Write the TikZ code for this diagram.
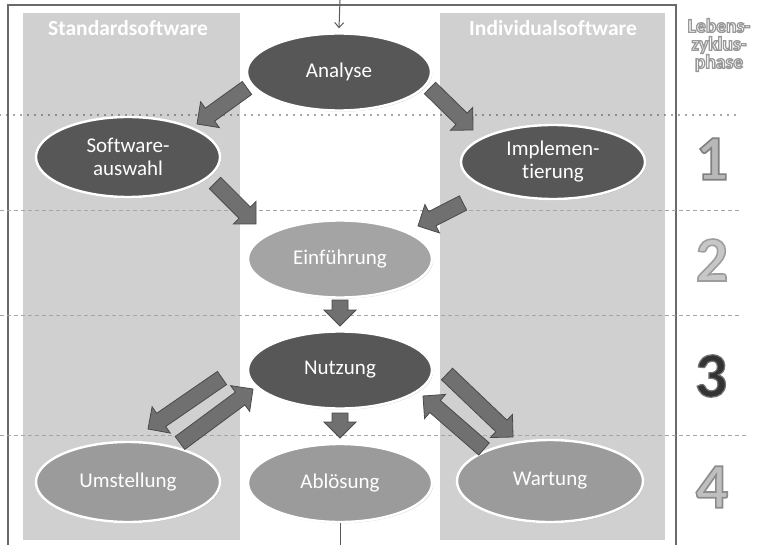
\documentclass[tikz,border=0pt]{standalone}
\usepackage{fontspec}
\setmainfont{Carlito}[Ligatures={NoCommon}]
\usepackage{graphicx}
\usetikzlibrary{calc,shapes.geometric,shadows,arrows.meta}

\definecolor{colbg}{HTML}{D0D0D0}
\definecolor{frameC}{HTML}{6A6A6A}
\definecolor{darkE}{HTML}{575757}
\definecolor{midE}{HTML}{9B9B9B}
\definecolor{lightE}{HTML}{A4A4A4}
\definecolor{arrowF}{HTML}{707070}
\definecolor{arrowD}{HTML}{4A4A4A}

% text filled in the current colour and stroked with a grey edge
% #1 stroke grey level (0..1), #2 stroke width (bp), #3 text
\newcommand{\edgedtext}[3]{%
  \special{pdf:literal direct #2 w #1 G 2 Tr}#3\special{pdf:literal direct 0 Tr}}

\tikzset{
  phase/.style={ellipse, draw=white, line width=2.4pt, inner sep=0pt,
    minimum width=184pt, minimum height=77pt, text=white, align=center,
    font=\fontsize{21}{23}\selectfont,
    drop shadow={shadow xshift=1.2pt, shadow yshift=-1.2pt, opacity=0.35}},
  darkphase/.style={phase, fill=darkE},
  midphase/.style={phase, fill=midE},
  lightphase/.style={phase, fill=lightE},
  framelineC/.style={draw=frameC, line width=1.4pt},
  columnbg/.style={fill=colbg},
  header/.style={text=white, font=\bfseries\fontsize{21.5}{23}\selectfont},
  dotline/.style={draw=black!70, line width=1.6pt, line cap=round,
    dash pattern=on 0pt off 7pt},
  dashline/.style={draw=black!35, line width=0.7pt, dash pattern=on 4pt off 3pt},
  fatarrowstyle/.style={fill=arrowF, draw=arrowD, line width=0.8pt, line join=miter},
  thinarrow/.style={draw=black!65, line width=1pt, -{Straight Barb[length=5pt,width=9pt]}},
  thinline/.style={draw=black!65, line width=1pt},
  phasenum/.style={font=\bfseries\fontsize{64}{64}\selectfont},
}

% block arrow from #2 to #3, coordinates named after #1
\newcommand{\fatarrow}[3]{%
  \coordinate (#1-s) at #2;
  \coordinate (#1-e) at #3;
  \coordinate (#1-m) at ($(#1-e)!16pt!(#1-s)$);
  \filldraw[fatarrowstyle]
    ($(#1-s)!8pt!90:(#1-e)$) -- ($(#1-m)!8pt!90:(#1-e)$) --
    ($(#1-m)!16pt!90:(#1-e)$) -- (#1-e) --
    ($(#1-m)!16pt!-90:(#1-e)$) -- ($(#1-m)!8pt!-90:(#1-e)$) --
    ($(#1-s)!8pt!-90:(#1-e)$) -- cycle;}

\begin{document}
\begin{tikzpicture}[x=1pt, y=-1pt]
\useasboundingbox (0,0) rectangle (757,545);
\fill[white] (0,0) rectangle (757,545);

% software columns
\fill[columnbg] (23,13) rectangle (240,540);
\fill[columnbg] (440,13) rectangle (665,540);

% outer frame
\draw[framelineC] (8,545) -- (8,5) -- (676,5) -- (676,545);

% column headings
\node[header] (hstd) at (128,28) {Standardsoftware};
\node[header] (hind) at (553,28) {Individualsoftware};

% phase separators
\draw[dotline] (0,115) -- (740,115);
\draw[dashline] (0,210) -- (742,210);
\draw[dashline] (0,315) -- (742,315);
\draw[dashline] (0,435) -- (748,435);

% life cycle label
\node[text=white, font=\bfseries\fontsize{19.5}{18}\selectfont, align=center, inner sep=0pt] (lzp) at (719,45)
  {\edgedtext{0.6}{1.3}{Lebens-}\\
   \edgedtext{0.6}{1.3}{zyklus-}\\
   \edgedtext{0.6}{1.3}{phase}};

% phase numbers
\node[phasenum, text=black!28] (n1) at (712,159) {\edgedtext{0.5}{1.6}{1}};
\node[phasenum, text=black!22] (n2) at (712,260) {\edgedtext{0.62}{1.6}{2}};
\node[phasenum, text=black!80] (n3) at (711,376) {\edgedtext{0.45}{1.2}{3}};
\node[phasenum, text=black!25] (n4) at (712,487) {\edgedtext{0.55}{1.6}{4}};

% phases
\node[darkphase] (ana) at (339,72) {Analyse};
\node[darkphase, minimum height=80pt] (swa) at (128,157) {Software-\\auswahl};
\node[darkphase, minimum height=74pt] (imp) at (553,162) {Implemen-\\tierung};
\node[lightphase] (ein) at (340,259) {Einführung};
\node[darkphase] (nut) at (340,370) {Nutzung};
\node[midphase, minimum height=78pt] (abl) at (340,483) {Ablösung};
\node[midphase, minimum height=80pt] (ums) at (128,482) {Umstellung};
\node[midphase, minimum width=186pt, minimum height=82pt] (war) at (550,481) {Wartung};

% entry and exit
\coordinate (entry) at (340,0);
\coordinate (exit) at (340,545);
\draw[thinarrow] (entry) -- ([yshift=4pt]ana.north);
\draw[thinline] (abl.south) -- (exit);

% transitions between phases
\fatarrow{as}{(247,88)}{(197,124)}
\fatarrow{ai}{(430,88)}{(473,130)}
\fatarrow{se}{(215,183)}{(256,224)}
\fatarrow{ie}{(463,203)}{(418,226)}
\fatarrow{en}{(340,300)}{(340,326)}
\fatarrow{na}{(340,413)}{(340,438)}
\fatarrow{nu}{(222,378)}{(148,429)}
\fatarrow{un}{(180,443)}{(253,389)}
\fatarrow{nw}{(447,374)}{(513,437)}
\fatarrow{wn}{(484,449)}{(423,396)}
\end{tikzpicture}
\end{document}
